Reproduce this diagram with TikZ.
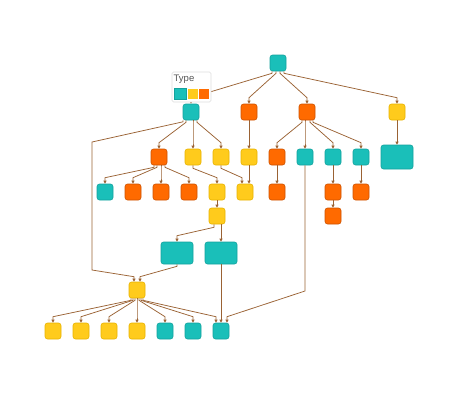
\documentclass[tikz,border=0pt]{standalone}
\usepackage{fontspec}
\setmainfont{Liberation Sans}
\usetikzlibrary{arrows.meta,calc}
\definecolor{tealc}{HTML}{1ABFB9}
\definecolor{tealb}{HTML}{14A29D}
\definecolor{yelc}{HTML}{FFCB1C}
\definecolor{yelb}{HTML}{E8B200}
\definecolor{orac}{HTML}{FF6A00}
\definecolor{orab}{HTML}{CC5200}
\definecolor{edgec}{HTML}{9A6234}
\definecolor{legb}{HTML}{DDDDDD}
\definecolor{legt}{HTML}{555555}
\tikzset{
  box/.style={rectangle, rounded corners=2.5pt, line width=0.6pt, minimum width=16pt, minimum height=16pt, inner sep=0pt},
  tl/.style={box, fill=tealc, draw=tealb},
  yl/.style={box, fill=yelc, draw=yelb},
  og/.style={box, fill=orac, draw=orab},
  bigt/.style={tl, minimum width=32pt, minimum height=22pt},
  edge/.style={draw=edgec, line width=0.75pt, -{Triangle[length=3pt,width=3pt]}},
}
\begin{document}
\begin{tikzpicture}[x=1pt,y=-1pt]
\useasboundingbox (0,0) rectangle (460,400);
% nodes
\node[tl] (R) at (278,63) {};
\node[tl] (A) at (191,112) {};
\node[og] (B) at (249,112) {};
\node[og] (C) at (307,112) {};
\node[yl] (D) at (397,112) {};
\node[og] (a1) at (159,157) {};
\node[yl] (a2) at (193,157) {};
\node[yl] (a3) at (221,157) {};
\node[yl] (b1) at (249,157) {};
\node[og] (c1) at (277,157) {};
\node[tl] (c2) at (305,157) {};
\node[tl] (c3) at (333,157) {};
\node[tl] (c4) at (361,157) {};
\node[tl, minimum width=32pt, minimum height=24pt] (d1) at (397,157) {};
\node[tl] (e1) at (105,192) {};
\node[og] (e2) at (133,192) {};
\node[og] (e3) at (161,192) {};
\node[og] (e4) at (189,192) {};
\node[yl] (f1) at (217,192) {};
\node[yl] (f2) at (245,192) {};
\node[og] (g1) at (277,192) {};
\node[og] (g2) at (333,192) {};
\node[og] (g3) at (361,192) {};
\node[yl] (f3) at (217,216) {};
\node[og] (g4) at (333,216) {};
\node[bigt] (T1) at (177,253) {};
\node[bigt] (T2) at (221,253) {};
\node[yl] (H) at (137,290) {};
\node[yl] (h1) at (53,331) {};
\node[yl] (h2) at (81,331) {};
\node[yl] (h3) at (109,331) {};
\node[yl] (h4) at (137,331) {};
\node[tl] (h5) at (165,331) {};
\node[tl] (h6) at (193,331) {};
\node[tl] (h7) at (221,331) {};
% edges: root
\foreach \c/\p in {A/-6,B/-2,C/2,D/6}{
  \draw[edge] ($(R.south)+(\p,0)$) -- ++(0,2) -- ($(\c.north)+(0,-6)$) -- (\c.north);
}
% A
\draw[edge] ($(A.south)+(-8,0)$) -- ++(0,1.5) -- (92,142) -- (92,270) -- ($(H.north)+(-3,-5)$) -- ($(H.north)+(-3,0)$);
\foreach \c/\p in {a1/-5,a2/2,a3/6}{
  \draw[edge] ($(A.south)+(\p,0)$) -- ++(0,2) -- ($(\c.north)+(0,-6)$) -- (\c.north);
}
% a1
\foreach \c/\p in {e1/-5,e2/-2,e3/2,e4/6}{
  \draw[edge] ($(a1.south)+(\p,0)$) -- ++(0,2) -- ($(\c.north)+(0,-6)$) -- (\c.north);
}
\draw[edge] (a2.south) -- ++(0,3) -- ($(f1.north)+(0,-6)$) -- (f1.north);
\draw[edge] (a3.south) -- ++(0,3) -- ($(f2.north)+(-3,-6)$) -- ($(f2.north)+(-3,0)$);
\draw[edge] (b1.south) -- ($(f2.north)+(4,0)$);
\draw[edge] (f1) -- (f3);
\draw[edge] ($(f3.south)+(-3,0)$) -- ++(0,3) -- ($(T1.north)+(0,-6)$) -- (T1.north);
\draw[edge] ($(f3.south)+(4,0)$) -- ($(T2.north)+(0,0)$);
\draw[edge] (T1.south) -- ++(0,2) -- ($(H.north)+(3,-5)$) -- ($(H.north)+(3,0)$);
\draw[edge] (T2.south) -- (h7.north);
\draw[edge] (c2.south) -- (305,291) -- ($(h7.north)+(6,-6)$) -- ($(h7.north)+(6,0)$);
% hub
\foreach \c/\p in {h1/-6,h2/-4,h3/-2,h4/0,h5/2,h6/4}{
  \draw[edge] ($(H.south)+(\p,0)$) -- ++(0,2) -- ($(\c.north)+(0,-6)$) -- (\c.north);
}
\draw[edge] ($(H.south)+(6,0)$) -- ++(0,2) -- ($(h7.north)+(-5,-6)$) -- ($(h7.north)+(-5,0)$);
% B, C, D
\draw[edge] (B) -- (b1);
\foreach \c/\p in {c1/-5,c2/-2,c3/3,c4/6}{
  \draw[edge] ($(C.south)+(\p,0)$) -- ++(0,2) -- ($(\c.north)+(0,-6)$) -- (\c.north);
}
\draw[edge] (D) -- (d1);
\draw[edge] (c1) -- (g1);
\draw[edge] (c3) -- (g2);
\draw[edge] (g2) -- (g4);
\draw[edge] (c4) -- (g3);
% legend
\node[draw=legb, fill=white, line width=0.6pt, rounded corners=1.5pt, minimum width=39pt, minimum height=30pt, inner sep=0pt] (leg) at (191.5,87) {};
\node[anchor=west, inner sep=0pt, text=legt, font=\fontsize{9.5}{10}\selectfont] (legtitle) at (173.5,79) {Type};
\node[rectangle, fill=tealc, draw=tealb, line width=1pt, minimum width=12pt, minimum height=11pt, inner sep=0pt] (sw1) at (180.5,94) {};
\node[rectangle, fill=yelc, minimum width=10pt, minimum height=10pt, inner sep=0pt] (sw2) at (192.5,94) {};
\node[rectangle, fill=orac, minimum width=10pt, minimum height=10pt, inner sep=0pt] (sw3) at (204,94) {};
\end{tikzpicture}
\end{document}
